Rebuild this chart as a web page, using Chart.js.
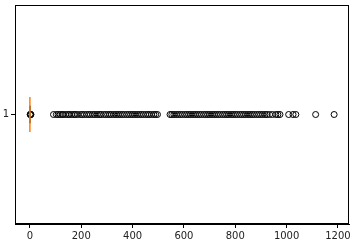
<!DOCTYPE html>
<html>
<head>
<meta charset="utf-8">
<script src="https://cdn.jsdelivr.net/npm/chart.js@4/dist/chart.umd.min.js"></script>
<style>
    html, body { margin: 0; padding: 0; background: #fff; }
    canvas { display: block; }
</style>
</head>
<body>
<canvas id="boxChart" width="354" height="244"></canvas>
<script>
// box stats (all collapsed near zero)
const categories = ['1'];
const whiskerLow = [0];
const boxQ1 = [0];
const boxMedian = [0];
const boxQ3 = [0];
const whiskerHigh = [0];

// outliers
const fliers = [
    1, 2, 3, 4,
    92, 103, 110, 118, 126, 131, 140, 149, 155, 163, 172, 178, 186, 197, 204, 212,
    221, 229, 236, 245, 253, 262, 270, 277, 287, 295, 303, 311, 318, 327, 336, 344,
    352, 360, 368, 377, 385, 393, 401, 409, 418, 426, 434, 442, 451, 459, 466, 474,
    483, 490, 497,
    546, 553, 561, 570, 578, 586, 594, 603, 611, 619, 627, 636, 644, 652, 660, 668,
    677, 685, 693, 701, 710, 718, 726, 734, 742, 751, 759, 767, 775, 784, 792, 800,
    808, 817, 825, 833, 841, 850, 858, 866, 874, 883, 891, 899, 907, 916, 924, 934,
    945, 958, 966, 974, 1008, 1025, 1036,
    1113, 1185
];

const xTicks = [0, 200, 400, 600, 800, 1000, 1200];

const boxPlugin = {
    id: 'boxDraw',
    afterDatasetsDraw(chart) {
        const ctx = chart.ctx;
        const xs = chart.scales.x;
        const ys = chart.scales.y;
        const half = 0.08;
        categories.forEach((c, i) => {
            const pos = i + 1;
            const yTop = ys.getPixelForValue(pos + half);
            const yBot = ys.getPixelForValue(pos - half);
            const capTop = ys.getPixelForValue(pos + half / 2);
            const capBot = ys.getPixelForValue(pos - half / 2);
            const yMid = ys.getPixelForValue(pos);
            const q1 = xs.getPixelForValue(boxQ1[i]);
            const q3 = xs.getPixelForValue(boxQ3[i]);
            const lo = xs.getPixelForValue(whiskerLow[i]);
            const hi = xs.getPixelForValue(whiskerHigh[i]);
            const med = xs.getPixelForValue(boxMedian[i]);
            ctx.save();
            ctx.strokeStyle = '#000';
            ctx.lineWidth = 1;
            if (q3 - q1 > 1) ctx.strokeRect(q1, yTop, q3 - q1, yBot - yTop);
            ctx.beginPath();
            ctx.moveTo(lo, yMid); ctx.lineTo(q1, yMid);
            ctx.moveTo(q3, yMid); ctx.lineTo(hi, yMid);
            ctx.moveTo(lo, capTop); ctx.lineTo(lo, capBot);
            ctx.moveTo(hi, capTop); ctx.lineTo(hi, capBot);
            ctx.stroke();
            ctx.strokeStyle = '#ff7f0e';
            ctx.lineWidth = 1.5;
            ctx.beginPath();
            ctx.moveTo(med, yTop); ctx.lineTo(med, yBot);
            ctx.stroke();
            ctx.restore();
        });
        // frame like matplotlib spines
        const a = chart.chartArea;
        ctx.save();
        ctx.strokeStyle = '#000';
        ctx.lineWidth = 1;
        ctx.strokeRect(Math.round(a.left) + 0.5, Math.round(a.top) + 0.5,
            Math.round(a.right - a.left) - 1, Math.round(a.bottom - a.top) - 1);
        ctx.restore();
    }
};

const ctx = document.getElementById('boxChart').getContext('2d');
new Chart(ctx, {
    type: 'scatter',
    data: {
        datasets: [{
            label: 'fliers',
            data: fliers.map(v => ({ x: v, y: 1 })),
            pointStyle: 'circle',
            pointRadius: 3,
            pointBorderWidth: 1,
            borderColor: '#000',
            backgroundColor: 'rgba(0,0,0,0)'
        }]
    },
    options: {
        responsive: false,
        animation: false,
        devicePixelRatio: 1,
        layout: { padding: { top: 5, right: 5, left: 0, bottom: 0 } },
        plugins: {
            legend: { display: false },
            tooltip: { enabled: false }
        },
        scales: {
            x: {
                type: 'linear',
                min: -58,
                max: 1243,
                afterBuildTicks: (scale) => { scale.ticks = xTicks.map(v => ({ value: v })); },
                afterFit: (scale) => { scale.height = 20; scale.paddingLeft = 0; scale.paddingRight = 0; },
                grid: { drawOnChartArea: false, tickLength: 4, color: '#000' },
                border: { display: true, color: '#000' },
                ticks: {
                    color: '#222',
                    padding: 2,
                    maxRotation: 0,
                    callback: (v) => String(v),
                    font: { family: 'DejaVu Sans', size: 10 }
                }
            },
            y: {
                type: 'linear',
                min: 0.5,
                max: 1.5,
                afterBuildTicks: (scale) => { scale.ticks = categories.map((c, i) => ({ value: i + 1 })); },
                afterFit: (scale) => { scale.width = 15; scale.paddingTop = 0; scale.paddingBottom = 0; },
                grid: { drawOnChartArea: false, tickLength: 4, color: '#000' },
                border: { display: true, color: '#000' },
                ticks: {
                    color: '#222',
                    padding: 2,
                    callback: (v) => categories[Math.round(v) - 1],
                    font: { family: 'DejaVu Sans', size: 10 }
                }
            }
        }
    },
    plugins: [boxPlugin]
});
</script>
</body>
</html>
